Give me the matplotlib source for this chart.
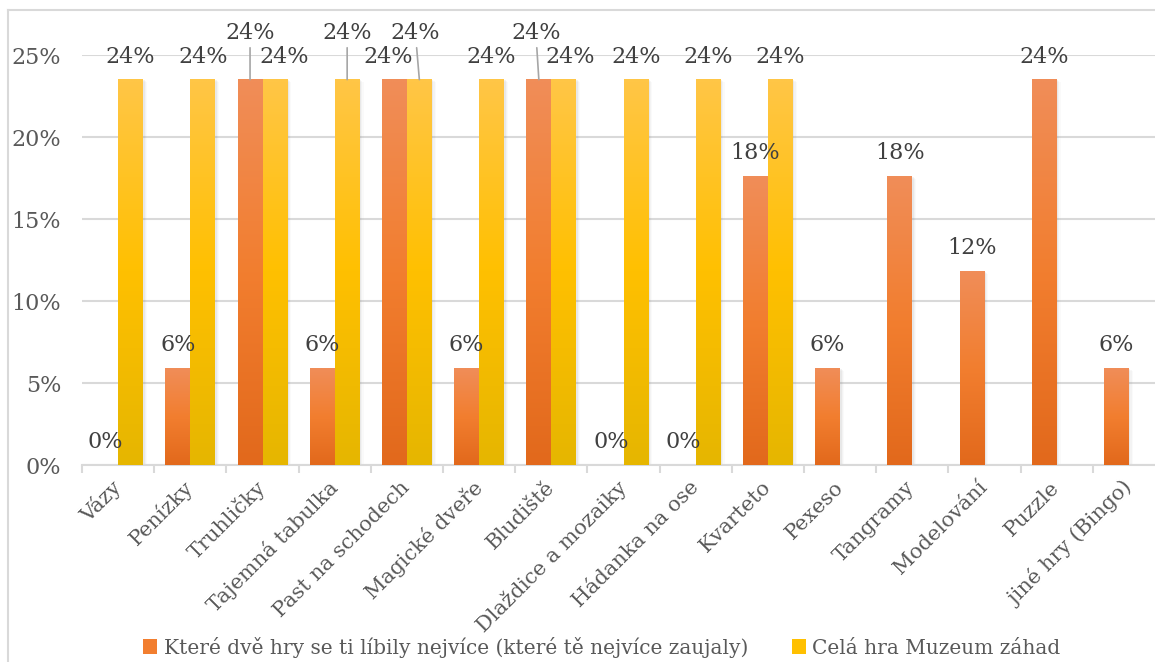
import numpy as np
import matplotlib.pyplot as plt
from matplotlib.patches import Rectangle, Patch
from matplotlib.lines import Line2D
from matplotlib.colors import to_rgb
from matplotlib.transforms import ScaledTranslation

# Games in the museum programme and share of answers (in %)
categories = ["Vázy", "Penízky", "Truhličky", "Tajemná tabulka", "Past na schodech",
              "Magické dveře", "Bludiště", "Dlaždice a mozaiky", "Hádanka na ose",
              "Kvarteto", "Pexeso", "Tangramy", "Modelování", "Puzzle", "jiné hry (Bingo)"]
liked_most = [0.0, 5.9, 23.5, 5.9, 23.5, 5.9, 23.5, 0.0, 0.0, 17.6, 5.9, 17.6, 11.8, 23.5, 5.9]
whole_game = [23.5, 23.5, 23.5, 23.5, 23.5, 23.5, 23.5, 23.5, 23.5, 23.5,
              np.nan, np.nan, np.nan, np.nan, np.nan]
series_names = ["Které dvě hry se ti líbily nejvíce (které tě nejvíce zaujaly)",
                "Celá hra Muzeum záhad"]
yticks = [0, 5, 10, 15, 20, 25]

plt.rcParams['font.family'] = ['DejaVu Serif']

# gradient stops (top, middle, bottom) for each series
orange = ["#F08D58", "#F27E2F", "#E2691C"]
yellow = ["#FFC646", "#FFC000", "#E6B600"]

# label tweaks for crowded spots: (series, index) -> (dx px, raised, leader line)
label_tweaks = {
    (0, 2): (0, True, True),
    (1, 2): (9, False, False),
    (1, 3): (0, True, True),
    (0, 4): (-6, False, False),
    (1, 4): (-4, True, True),
    (0, 6): (-3, True, True),
    (1, 6): (6, False, False),
}

W, H = 1155, 662
fig = plt.figure(figsize=(W / 100, H / 100), dpi=100)
ax = fig.add_axes([82 / W, 197 / H, (1165 - 82) / W, 410 / H])

bar_w = 0.345
x = np.arange(len(categories))


def gradient_bar(ax, x0, h, stops):
    if np.isnan(h) or h <= 0:
        return
    cols = np.array([to_rgb(c) for c in stops[::-1]])
    t = np.linspace(0, 1, 64)
    grad = np.empty((64, 1, 3))
    for k in range(3):
        grad[:, 0, k] = np.interp(t, [0, 0.5, 1], cols[:, k])
    # soft shadow
    for i, a in enumerate([0.09, 0.06, 0.03]):
        off = ScaledTranslation((1.5 + i * 1.2) / 100, -(0.5 + i) / 100, fig.dpi_scale_trans)
        ax.add_patch(Rectangle((x0, 0), bar_w, h, facecolor="#7F7F7F", edgecolor="none",
                               alpha=a, transform=ax.transData + off, zorder=2))
    ax.imshow(grad, extent=(x0, x0 + bar_w, 0, h), origin="lower", aspect="auto",
              interpolation="bilinear", zorder=3)


for i in x:
    gradient_bar(ax, i - bar_w, liked_most[i], orange)
    gradient_bar(ax, i, whole_game[i], yellow)

# data labels
for s, vals in enumerate([liked_most, whole_game]):
    for i, v in enumerate(vals):
        if np.isnan(v):
            continue
        cx = i - bar_w / 2 if s == 0 else i + bar_w / 2
        dx, raised, leader = label_tweaks.get((s, i), (0, False, False))
        dy = 47 if raised else 23
        ax.annotate(f"{v:.0f}%", xy=(cx, v), xytext=(dx * 0.72, dy * 0.72),
                    textcoords="offset points", ha="center", va="center",
                    fontsize=16, color="#404040", zorder=5,
                    arrowprops=dict(arrowstyle="-", color="#A6A6A6", lw=1.2,
                                    shrinkA=1, shrinkB=0) if leader else None)

ax.set_xlim(-0.5, len(categories) - 0.5)
ax.set_ylim(0, 25)
ax.set_yticks(yticks)
ax.set_yticklabels([f"{t}%" for t in yticks])
ax.yaxis.grid(True, color="#D9D9D9", lw=1.5, zorder=0)
ax.set_axisbelow(True)
ax.tick_params(axis="y", length=0, pad=15, labelsize=16, labelcolor="#595959")

ax.set_xticks(x)
ax.set_xticklabels(categories, rotation=45, ha="right", va="center",
                   rotation_mode="anchor", fontsize=15, color="#595959")
ax.tick_params(axis="x", which="major", length=0, pad=14)
ax.set_xticks(np.arange(-0.5, len(categories)), minor=True)
ax.tick_params(axis="x", which="minor", length=6, width=1.5, color="#D9D9D9")

for side in ["left", "right", "top"]:
    ax.spines[side].set_visible(False)
ax.spines["bottom"].set_color("#D9D9D9")
ax.spines["bottom"].set_linewidth(1.5)

# chart border
fig.add_artist(Line2D([8 / W, 8 / W], [0, 1 - 10 / H], transform=fig.transFigure,
                      color="#D9D9D9", lw=1.5))
fig.add_artist(Line2D([8 / W, 1], [1 - 10 / H, 1 - 10 / H], transform=fig.transFigure,
                      color="#D9D9D9", lw=1.5))

handles = [Patch(facecolor=orange[1], edgecolor="none"),
           Patch(facecolor=yellow[1], edgecolor="none")]
fig.legend(handles, series_names, loc="center", bbox_to_anchor=(602 / W, 15 / H),
           ncol=2, frameon=False, fontsize=14.5, labelcolor="#595959",
           handlelength=0.7, handleheight=0.7, handletextpad=0.3, columnspacing=2.2)

fig.savefig("out.png", dpi=100)
